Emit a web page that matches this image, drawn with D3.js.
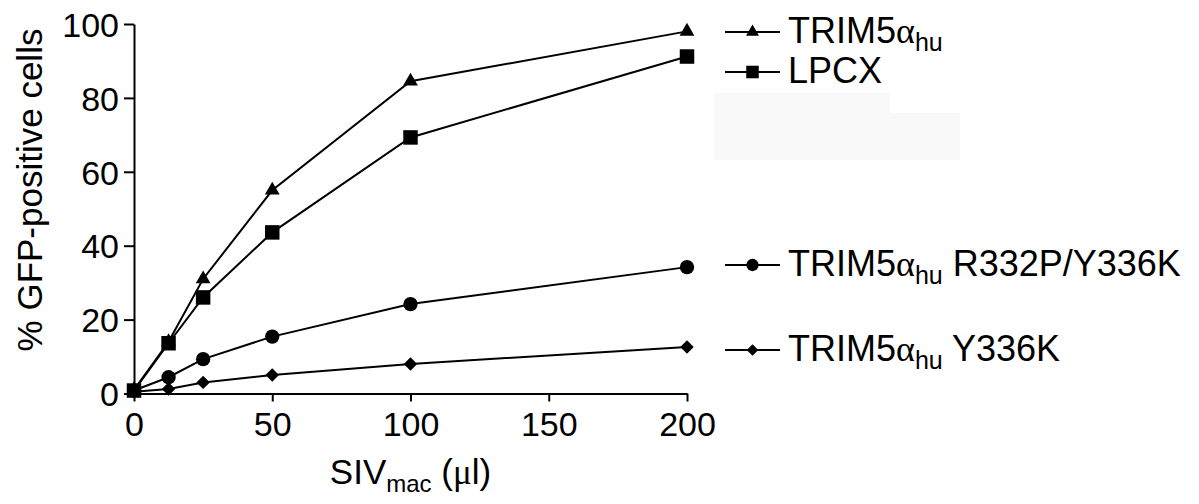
<!DOCTYPE html>
<html>
<head>
<meta charset="utf-8">
<script src="https://cdn.jsdelivr.net/npm/d3@7/dist/d3.min.js"></script>
<style>
  html, body { margin: 0; padding: 0; background: #fff; }
  svg { display: block; }
  text { font-family: "Liberation Sans", Arial, sans-serif; fill: #000; }
</style>
</head>
<body>
<svg id="chart" width="1199" height="504"></svg>
<script>
// ---- data ----
const doses = [0, 12.5, 25, 50, 100, 200];
const trim5Hu = [1, 14, 31, 55, 84.5, 98];
const lpcx = [0.8, 13.6, 26, 43.6, 69.3, 91.2];
const r332pY336k = [0.8, 4.4, 9.3, 15.4, 24.2, 34.2];
const y336k = [0.5, 1.2, 3, 5, 8, 12.6];
const xTicks = [0, 50, 100, 150, 200];
const yTicks = [0, 20, 40, 60, 80, 100];
const seriesNames = ["TRIM5\u03b1hu", "LPCX", "TRIM5\u03b1hu R332P/Y336K", "TRIM5\u03b1hu Y336K"];

const svg = d3.select("#chart");
const x = d3.scaleLinear().domain([0, 200]).range([134, 687]);
const y = d3.scaleLinear().domain([0, 100]).range([393.5, 24]);

// faint background artifact
svg.append("path")
  .attr("d", "M714,93 L890,93 L890,113 L960,113 L960,160 L714,160 Z")
  .attr("fill", "#f9f9f9");

// axes
const xAxis = svg.append("g").attr("transform", `translate(0,${y(0)})`)
  .call(d3.axisBottom(x).tickValues(xTicks).tickSize(8).tickSizeOuter(0).tickPadding(10));
const yAxis = svg.append("g").attr("transform", `translate(${x(0)},0)`)
  .call(d3.axisLeft(y).tickValues(yTicks).tickSize(10).tickSizeOuter(0).tickPadding(5));
[xAxis, yAxis].forEach(g => {
  g.selectAll("path, line").attr("stroke", "#000").attr("stroke-width", 2);
  g.selectAll("text").style("font-size", "34px").attr("font-family", "Liberation Sans, Arial, sans-serif").attr("fill", "#000");
});
yAxis.selectAll("text").attr("dy", "0.36em");

// titles
svg.append("text")
  .attr("transform", "translate(42,190) rotate(-90)")
  .attr("text-anchor", "middle")
  .style("font-size", "35px")
  .text("% GFP-positive cells");

const xt = svg.append("text")
  .attr("x", x(100)).attr("y", 484)
  .attr("text-anchor", "middle")
  .style("font-size", "35px");
xt.append("tspan").text("SIV");
xt.append("tspan").attr("dy", 8).style("font-size", "24px").text("mac");
xt.append("tspan").attr("dy", -8).text(" (");
xt.append("tspan").style("font-family", "Liberation Serif, serif").text("\u03bc");
xt.append("tspan").text("l)");

// series
const series = [
  { name: seriesNames[0], values: trim5Hu, sym: d3.symbolTriangle, size: 95, rot: 0 },
  { name: seriesNames[1], values: lpcx, sym: d3.symbolSquare, size: 210, rot: 0 },
  { name: seriesNames[2], values: r332pY336k, sym: d3.symbolCircle, size: 160, rot: 0 },
  { name: seriesNames[3], values: y336k, sym: d3.symbolSquare, size: 90, rot: 45 }
];

const line = d3.line().x(d => x(d[0])).y(d => y(d[1]));

series.forEach(s => {
  const pts = doses.map((d, i) => [d, s.values[i]]);
  svg.append("path").datum(pts)
    .attr("d", line).attr("fill", "none").attr("stroke", "#000").attr("stroke-width", 2);
  svg.append("g").selectAll("path").data(pts).join("path")
    .attr("d", d3.symbol().type(s.sym).size(s.size))
    .attr("transform", d => `translate(${x(d[0])},${y(d[1])}) rotate(${s.rot})`)
    .attr("fill", "#000");
});

// legend
const legendY = [32, 72, 265, 350];
const legendX0 = 725, legendX1 = 780, legendTextX = 788;
series.forEach((s, i) => {
  const ly = legendY[i];
  const g = svg.append("g");
  g.append("line").attr("x1", legendX0).attr("x2", legendX1).attr("y1", ly).attr("y2", ly)
    .attr("stroke", "#000").attr("stroke-width", 2);
  g.append("path").attr("d", d3.symbol().type(s.sym).size(s.size * 0.75)())
    .attr("transform", `translate(${(legendX0 + legendX1) / 2},${ly}) rotate(${s.rot})`)
    .attr("fill", "#000");
  const t = g.append("text").attr("x", legendTextX).attr("y", ly + 11).style("font-size", "36px");
  if (s.name.startsWith("TRIM5")) {
    t.append("tspan").text("TRIM5");
    t.append("tspan").style("font-family", "Liberation Serif, serif").text("\u03b1");
    t.append("tspan").attr("dy", 8).style("font-size", "25px").text("hu");
    const rest = s.name.slice("TRIM5\u03b1hu".length);
    if (rest) t.append("tspan").attr("dy", -8).text(rest);
  } else {
    t.text(s.name);
  }
});
</script>
</body>
</html>
